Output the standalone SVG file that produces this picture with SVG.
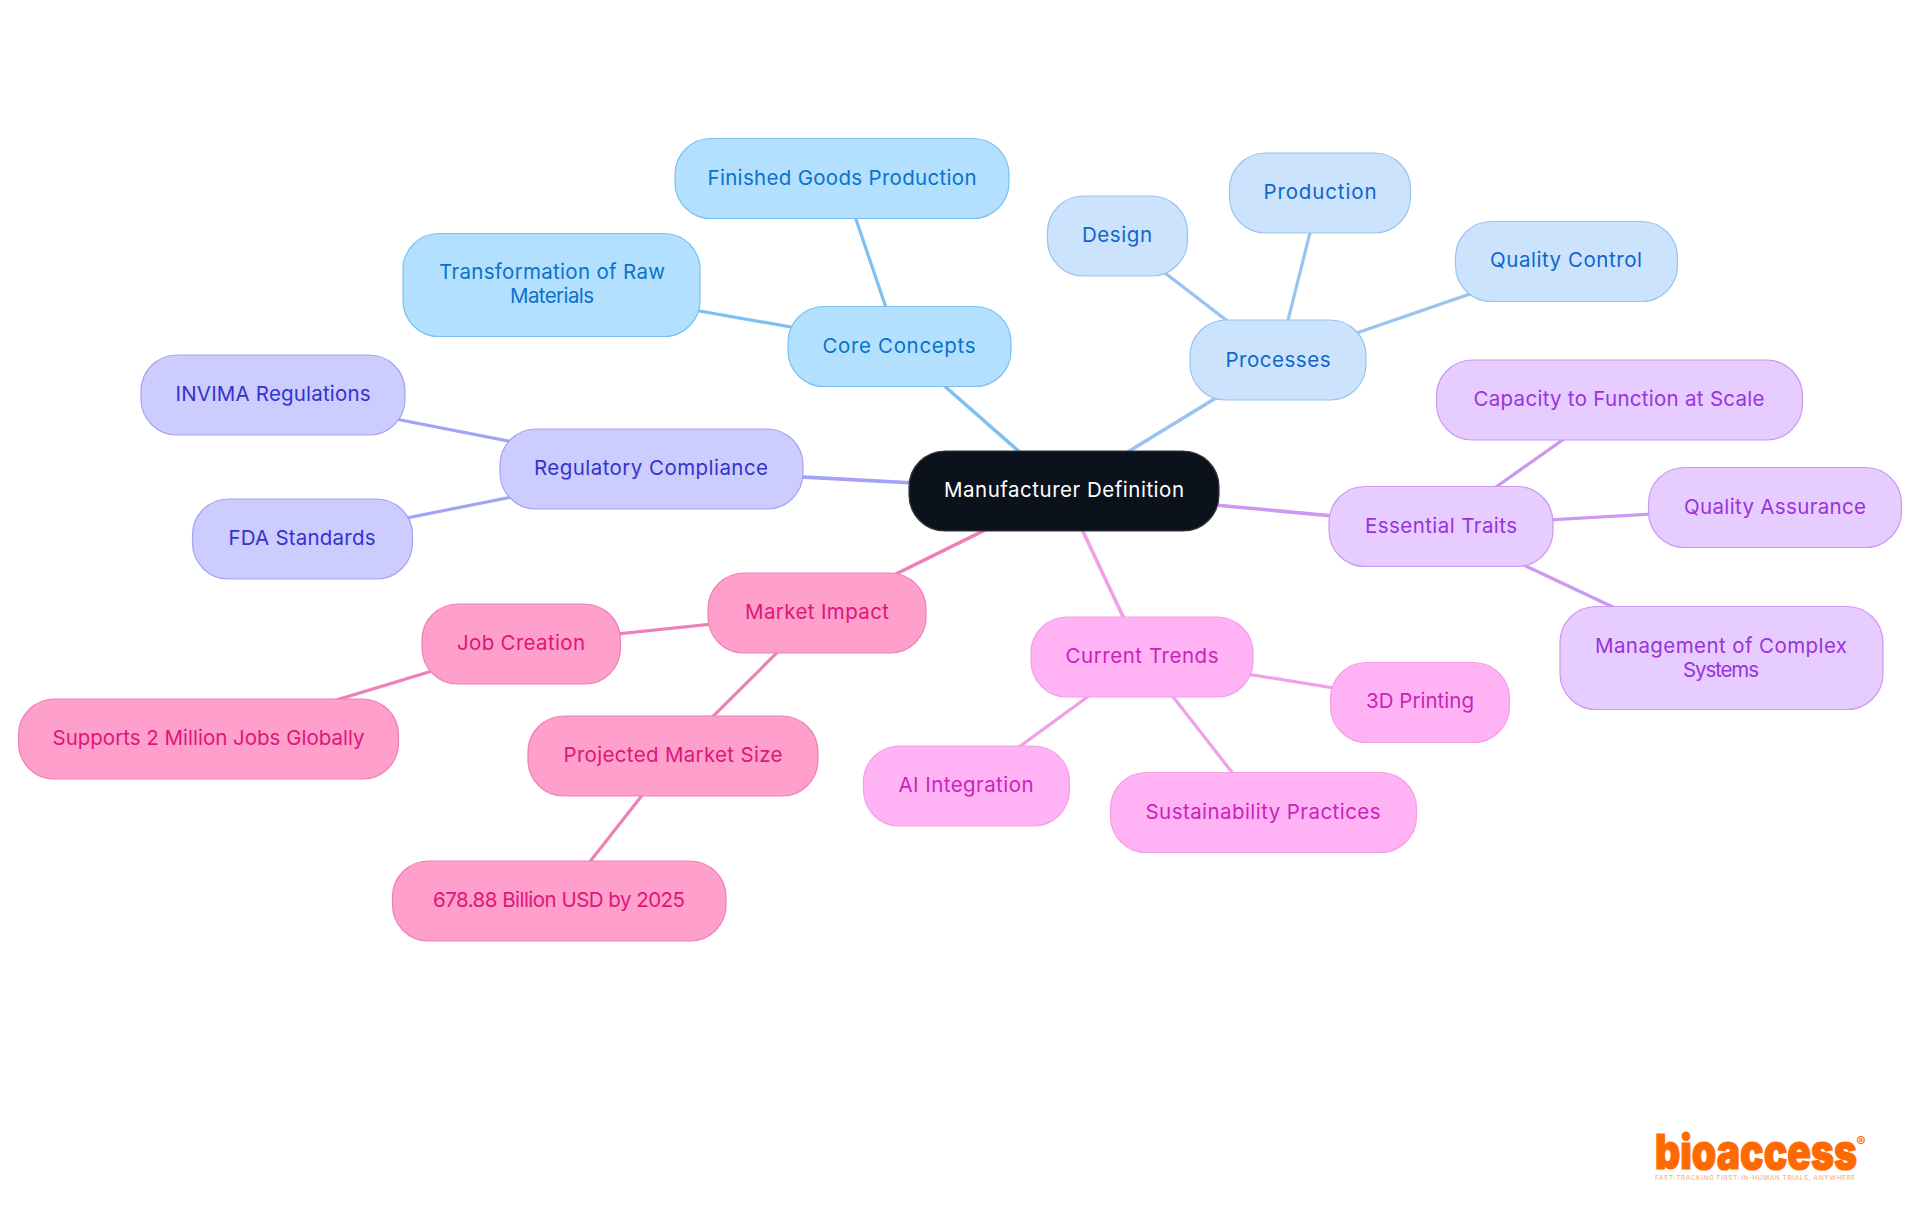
<svg xmlns="http://www.w3.org/2000/svg" width="1920" height="1215" viewBox="0 0 1920 1215">
<style>
text{font-family:"Inter","Noto Sans","Liberation Sans",sans-serif;font-size:20.500px;text-anchor:middle;font-weight:400}
rect{stroke-width:1.2}
.edge{fill:none}
.l1{stroke-width:3.600}
.l2{stroke-width:3.200}
.blue rect{fill:#b3e0ff;stroke:#7cc0f0}.blue text{fill:#0b72c9}
.sky rect{fill:#cce3fd;stroke:#99c4f0}.sky text{fill:#0f66cc}
.ind rect{fill:#ccccff;stroke:#a3a3f0}.ind text{fill:#3333cc}
.pur rect{fill:#e6ccff;stroke:#cc99ee}.pur text{fill:#9933dd}
.mag rect{fill:#ffb3f5;stroke:#f29ee8}.mag text{fill:#cc22bb}
.pnk rect{fill:#ff9fcb;stroke:#ee80b8}.pnk text{fill:#e0157a}
</style>
<rect width="1920" height="1215" fill="#ffffff" stroke="none"/>
<g id="connectors">
<g class="edge" stroke="#7fc0ee">
<path class="l1" d="M1064 491L899 346"/><path class="l2" d="M899 346L842 178"/><path class="l2" d="M899 346L552 285"/>
</g>
<g class="edge" stroke="#99c4f0">
<path class="l1" d="M1064 491L1278 360"/><path class="l2" d="M1278 360L1117 236"/><path class="l2" d="M1278 360L1320 193"/><path class="l2" d="M1278 360L1566 261"/>
</g>
<g class="edge" stroke="#a3a3f5">
<path class="l1" d="M1064 491L651 469"/><path class="l2" d="M651 469L273 395"/><path class="l2" d="M651 469L302 539"/>
</g>
<g class="edge" stroke="#cc99f0">
<path class="l1" d="M1064 491L1441 526"/><path class="l2" d="M1441 526L1619 400"/><path class="l2" d="M1441 526L1775 507"/><path class="l2" d="M1441 526L1721 658"/>
</g>
<g class="edge" stroke="#f29ee8">
<path class="l1" d="M1064 491L1142 657"/><path class="l2" d="M1142 657L1420 702"/><path class="l2" d="M1142 657L966 786"/><path class="l2" d="M1142 657L1263 812"/>
</g>
<g class="edge" stroke="#ee80b8">
<path class="l1" d="M1064 491L817 613"/><path class="l2" d="M817 613L521 644"/><path class="l2" d="M521 644L208 739"/><path class="l2" d="M817 613L673 756"/><path class="l2" d="M673 756L559 901"/>
</g>
</g>
<g id="root"><rect x="909" y="451" width="310" height="80" rx="36" fill="#0b121b" stroke="#33383f"/><text x="1064" y="497" fill="#ffffff" textLength="240">Manufacturer Definition</text></g>
<g id="core-concepts" class="blue"><rect x="788" y="306.500" width="223" height="80" rx="36"/><text x="899" y="353" textLength="153">Core Concepts</text></g>
<g id="finished-goods" class="blue"><rect x="675" y="138.500" width="334" height="80" rx="36"/><text x="842" y="185" textLength="269">Finished Goods Production</text></g>
<g id="transformation" class="blue"><rect x="403" y="233.500" width="297" height="103" rx="36"/><text x="552" y="279" textLength="226">Transformation of Raw</text><text x="552" y="303" textLength="84">Materials</text></g>
<g id="processes" class="sky"><rect x="1190" y="320" width="176" height="80" rx="36"/><text x="1278" y="366.500" textLength="105">Processes</text></g>
<g id="design" class="sky"><rect x="1047.500" y="196" width="140" height="80" rx="36"/><text x="1117" y="242" textLength="70">Design</text></g>
<g id="production" class="sky"><rect x="1229.500" y="153" width="181" height="80" rx="36"/><text x="1320" y="199" textLength="113">Production</text></g>
<g id="quality-control" class="sky"><rect x="1455.500" y="221.500" width="222" height="80" rx="36"/><text x="1566" y="267" textLength="152">Quality Control</text></g>
<g id="regulatory" class="ind"><rect x="500" y="429" width="303" height="80" rx="36"/><text x="651" y="475" textLength="234">Regulatory Compliance</text></g>
<g id="invima" class="ind"><rect x="141" y="355" width="264" height="80" rx="36"/><text x="273" y="401" textLength="195">INVIMA Regulations</text></g>
<g id="fda" class="ind"><rect x="192.500" y="499" width="220" height="80" rx="36"/><text x="302" y="545" textLength="147">FDA Standards</text></g>
<g id="essential" class="pur"><rect x="1329" y="486.500" width="224" height="80" rx="36"/><text x="1441" y="532.500" textLength="152">Essential Traits</text></g>
<g id="capacity" class="pur"><rect x="1436.500" y="360" width="366" height="80" rx="36"/><text x="1619" y="406" textLength="291">Capacity to Function at Scale</text></g>
<g id="quality-assurance" class="pur"><rect x="1648.500" y="467.500" width="253" height="80" rx="36"/><text x="1775" y="513.500" textLength="182">Quality Assurance</text></g>
<g id="management" class="pur"><rect x="1560" y="606.500" width="323" height="103" rx="36"/><text x="1721" y="653" textLength="252">Management of Complex</text><text x="1721" y="676.500" textLength="76">Systems</text></g>
<g id="current-trends" class="mag"><rect x="1031" y="617" width="222" height="80" rx="36"/><text x="1142" y="663" textLength="153">Current Trends</text></g>
<g id="printing" class="mag"><rect x="1330.500" y="662.500" width="179" height="80" rx="36"/><text x="1420" y="708" textLength="108">3D Printing</text></g>
<g id="ai" class="mag"><rect x="863.500" y="746" width="206" height="80" rx="36"/><text x="966" y="792" textLength="135">AI Integration</text></g>
<g id="sustainability" class="mag"><rect x="1110.500" y="772.500" width="306" height="80" rx="36"/><text x="1263" y="818.500" textLength="235">Sustainability Practices</text></g>
<g id="market-impact" class="pnk"><rect x="708" y="573" width="218" height="80" rx="36"/><text x="817" y="619" textLength="144">Market Impact</text></g>
<g id="job-creation" class="pnk"><rect x="422" y="604" width="198.500" height="80" rx="36"/><text x="521" y="650" textLength="128">Job Creation</text></g>
<g id="supports" class="pnk"><rect x="18.500" y="699" width="380" height="80" rx="36"/><text x="208.500" y="745" textLength="312">Supports 2 Million Jobs Globally</text></g>
<g id="projected" class="pnk"><rect x="528" y="716" width="290" height="80" rx="36"/><text x="673" y="762" textLength="219">Projected Market Size</text></g>
<g id="usd" class="pnk"><rect x="392.500" y="861" width="333.500" height="80" rx="36"/><text x="559" y="907" textLength="252">678.88 Billion USD by 2025</text></g>
<g id="logo">
<text transform="translate(1756 1169) scale(1 1.2)" fill="#ff6a00" stroke="#ff6a00" stroke-width="1" style="font-size:40px;font-weight:900" textLength="202" lengthAdjust="spacingAndGlyphs">bioaccess</text>
<text x="1861" y="1147" fill="#ff6a00" style="font-size:14px;font-weight:700">®</text>
<text x="1755" y="1180" fill="#ffb27f" style="font-size:6.500px;font-weight:500" textLength="200">FAST-TRACKING FIRST-IN-HUMAN TRIALS, ANYWHERE</text>
</g>
</svg>
